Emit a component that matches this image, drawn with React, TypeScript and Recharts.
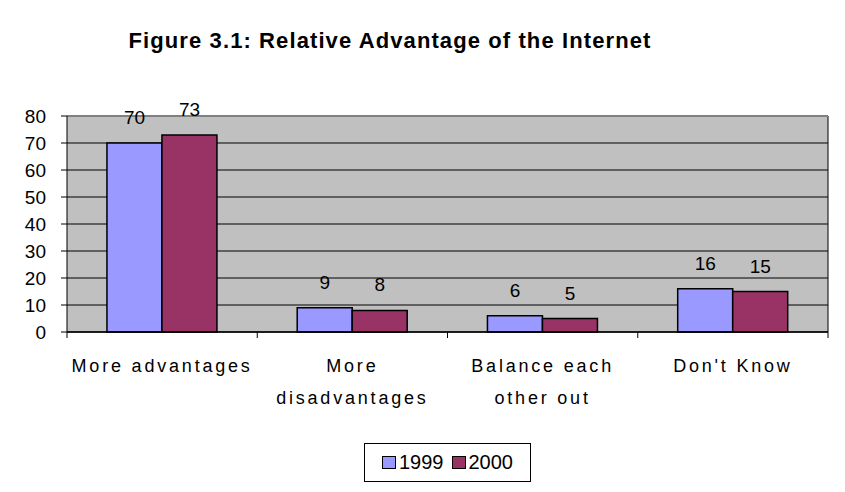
import { BarChart, Bar, XAxis, YAxis, CartesianGrid, LabelList, ReferenceLine } from 'recharts';

const categories = ['More advantages', 'More disadvantages', 'Balance each other out', "Don't Know"];
const categoryLines = [['More advantages'], ['More', 'disadvantages'], ['Balance each', 'other out'], ["Don't Know"]];
const values1999 = [70, 9, 6, 16];
const values2000 = [73, 8, 5, 15];
const yTicks = [0, 10, 20, 30, 40, 50, 60, 70, 80];

const data = categories.map((name, i) => ({ name, y1999: values1999[i], y2000: values2000[i] }));

const font = "'Liberation Sans', Arial, sans-serif";

// category label plus a tick mark at the left edge of each band (and the right edge of the last)
function CategoryTick(props: any) {
    const { x, y, index, payload } = props;
    const half = payload && payload.offset ? payload.offset : 0;
    const lines = categoryLines[index] || [];
    return (
        <g>
            <line x1={x - half} x2={x - half} y1={y} y2={y + 6} stroke="#000" />
            {index === categories.length - 1 && (
                <line x1={x + half} x2={x + half} y1={y} y2={y + 6} stroke="#000" />
            )}
            <text x={x} y={y} textAnchor="middle" fill="#000" fontSize={18} fontFamily={font} letterSpacing={2.8}>
                {lines.map((line, i) => (
                    <tspan key={i} x={x} dy={i === 0 ? 40 : 32}>{line}</tspan>
                ))}
            </text>
        </g>
    );
}

export default function App() {
    return (
        <div style={{ position: 'relative', width: 845, height: 492, marginLeft: -8, marginTop: -8, background: '#fff', fontFamily: font, overflow: 'hidden' }}>
            <div
                style={{
                    position: 'absolute', left: 0, width: 780, top: 28, textAlign: 'center',
                    fontWeight: 'bold', fontSize: 22, letterSpacing: 1.1, color: '#000',
                }}
            >
                Figure 3.1: Relative Advantage of the Internet
            </div>
            <BarChart
                width={845}
                height={492}
                data={data}
                margin={{ top: 116, right: 17, left: 27, bottom: 100 }}
                barCategoryGap="21%"
                barGap={0}
            >
                <CartesianGrid
                    fill="#C0C0C0"
                    stroke="#000"
                    strokeOpacity={1}
                    verticalCoordinatesGenerator={({ offset }: any) => [offset.left + offset.width]}
                />
                <XAxis
                    dataKey="name"
                    tick={<CategoryTick />}
                    tickLine={false}
                    tickSize={0}
                    tickMargin={0}
                    axisLine={{ stroke: '#000', strokeWidth: 1.5 }}
                    interval={0}
                    height={60}
                />
                <YAxis
                    domain={[0, 80]}
                    ticks={yTicks}
                    width={40}
                    tickSize={6}
                    tickMargin={15}
                    tick={{ fill: '#000', fontSize: 19, fontFamily: font }}
                    axisLine={{ stroke: '#000' }}
                    tickLine={{ stroke: '#000' }}
                />
                <ReferenceLine y={80} stroke="#808080" strokeWidth={2} />
                <Bar dataKey="y1999" fill="#9999FF" stroke="#000" strokeWidth={1.5} isAnimationActive={false}>
                    <LabelList dataKey="y1999" position="top" offset={19} fill="#000" fontSize={19} fontFamily={font} />
                </Bar>
                <Bar dataKey="y2000" fill="#993366" stroke="#000" strokeWidth={1.5} isAnimationActive={false}>
                    <LabelList dataKey="y2000" position="top" offset={19} fill="#000" fontSize={19} fontFamily={font} />
                </Bar>
            </BarChart>
            <div
                style={{
                    position: 'absolute', left: 364, top: 443, width: 165, height: 37, border: '1px solid #000',
                    display: 'flex', alignItems: 'center', justifyContent: 'center', fontSize: 20, color: '#000',
                }}
            >
                <span style={{ display: 'inline-block', width: 12, height: 11, background: '#9999FF', border: '1px solid #000', marginRight: 3 }} />
                <span style={{ marginRight: 8 }}>1999</span>
                <span style={{ display: 'inline-block', width: 12, height: 11, background: '#993366', border: '1px solid #000', marginRight: 3 }} />
                <span>2000</span>
            </div>
            <div
                style={{
                    position: 'absolute', left: 2, top: 2, right: 0, bottom: 0, zIndex: 10,
                    borderLeft: '3px solid #333', borderTop: '3px solid #333',
                }}
            />
        </div>
    );
}
